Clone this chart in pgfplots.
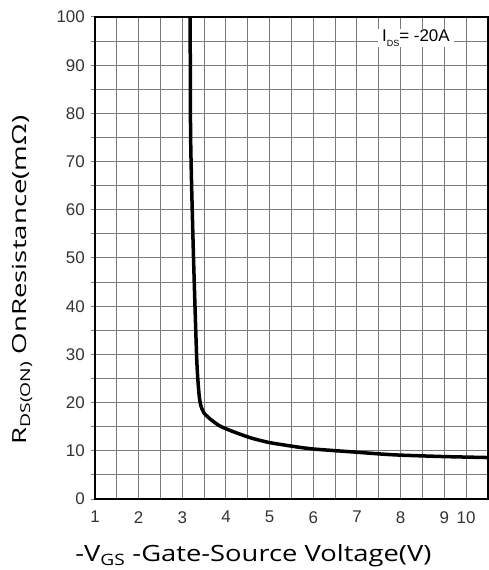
\documentclass[border=0pt]{standalone}
\usepackage{pgfplots}
\pgfplotsset{compat=1.18}
\usepackage{fontspec}
\setmainfont{Open Sans}
\newfontfamily\xlabfont[FakeStretch=1.22]{Open Sans}
\newfontfamily\ylabfont[FakeStretch=1.42]{Open Sans}
\newfontfamily\tickfont{Liberation Sans}
\definecolor{gridc}{HTML}{7A7A7A}
\definecolor{tickc}{HTML}{333333}
\begin{document}
\begin{tikzpicture}
\begin{axis}[
  scale only axis,
  width=393bp, height=482bp,
  xmin=1, xmax=10, ymin=0, ymax=100,
  xtick={1,2,3,4,5,6,7,8,9,9.5},
  xticklabels={1,2,3,4,5,6,7,8,9,10},
  minor xtick={1.5,2.5,3.5,4.5,5.5,6.5,7.5,8.5},
  ytick={0,10,...,100},
  minor ytick={5,15,...,95},
  grid=both,
  major grid style={draw=gridc, line width=1bp},
  minor grid style={draw=gridc, line width=1bp},
  axis line style={black, line width=1.5bp},
  tick align=outside,
  major tick length=4bp, minor tick length=4bp,
  xtick style={draw=none},
  minor x tick style={draw=none},
  ytick style={draw=gridc, line width=1bp},
  minor y tick style={draw=gridc, line width=1bp},
  /pgf/number format/assume math mode=true,
  ticklabel style={font=\tickfont\fontsize{17}{17}\selectfont, text=tickc},
  xticklabel style={anchor=north, inner sep=0pt, yshift=-8bp},
  yticklabel style={anchor=east, inner sep=0pt, xshift=-6bp},
  xlabel={-V\textsubscript{GS} -Gate-Source Voltage(V)},
  xlabel style={font=\xlabfont\fontsize{22.5}{22.5}\selectfont, at={(axis description cs:0.403,0)}, anchor=base, yshift=-62bp},
  ylabel={R\textsubscript{DS(ON)} OnResistance(mΩ)},
  ylabel style={font=\ylabfont\fontsize{19.5}{19.5}\selectfont, at={(axis description cs:0,0.454)}, anchor=base, yshift=68bp},
]
\addplot[black, line width=3.5bp, smooth, tension=0.4] coordinates {
(3.18,100) (3.19,75) (3.25,52) (3.33,29) (3.38,22) (3.42,19.5) (3.5,17.8) (3.65,16.5) (3.85,15.2) (4.1,14.2) (4.56,12.7) (5,11.7) (5.7,10.7) (6.1,10.3) (7,9.7) (7.6,9.3) (8,9.1) (9,8.8) (10,8.6)
};
\node[fill=white, inner xsep=4bp, inner ysep=1bp, font=\tickfont\fontsize{17}{17}\selectfont, text=black] at (axis cs:8.35,95.6) {I\raisebox{-0.5ex}{\fontsize{9}{9}\selectfont DS}= -20A};
\end{axis}
\pgfresetboundingbox
\path[use as bounding box] (-95bp,-71bp) rectangle (394bp,499bp);
\end{tikzpicture}
\end{document}
